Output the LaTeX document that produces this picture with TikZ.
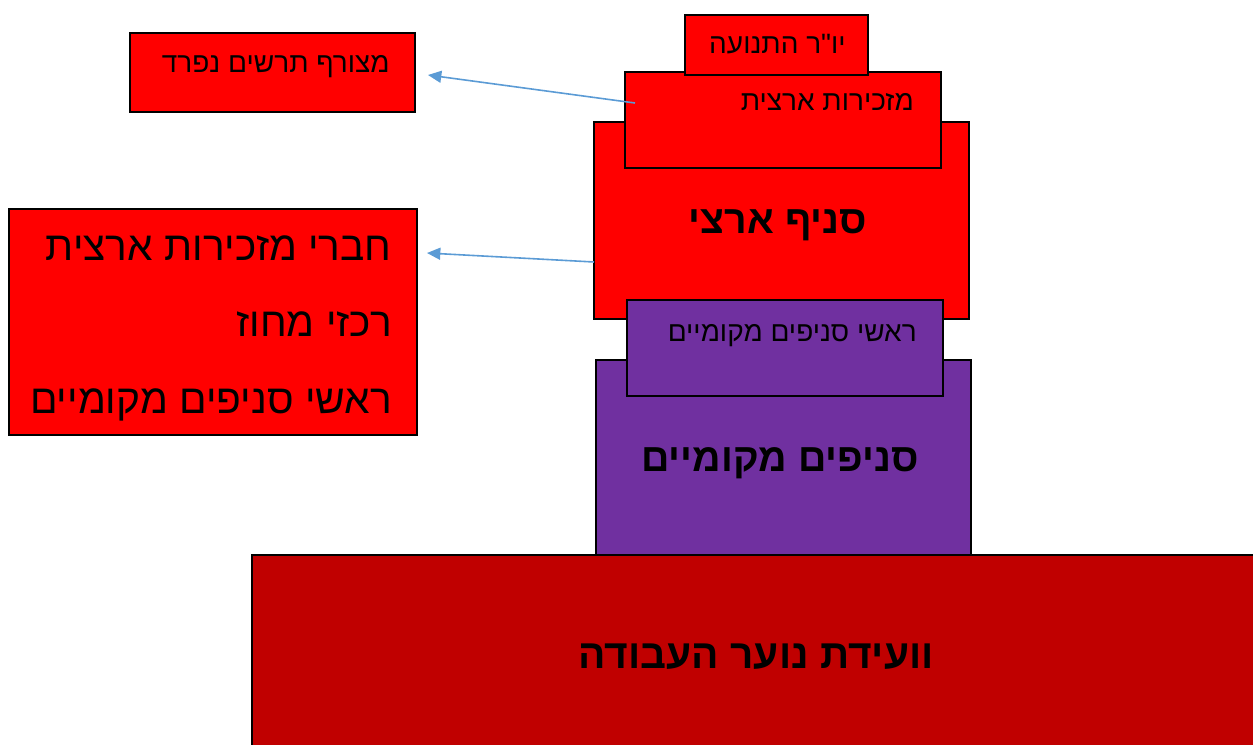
\documentclass[tikz,border=0pt]{standalone}
\usepackage{fontspec}
\setmainfont{Liberation Sans}
\newfontfamily\heb[Script=Hebrew]{Liberation Sans}
\TeXXeTstate=1
\usetikzlibrary{arrows.meta,fit}
\definecolor{cred}{HTML}{FF0000}
\definecolor{cdark}{HTML}{C00000}
\definecolor{cpurp}{HTML}{7030A0}
\definecolor{carrow}{HTML}{5B9BD5}
\tikzset{
  box/.style={draw=black, line width=0.8pt, inner sep=0pt},
  redbox/.style={box, fill=cred},
  purpbox/.style={box, fill=cpurp},
  darkbox/.style={box, fill=cdark},
  lbl/.style={inner sep=0pt, anchor=base east, font=\heb\fontsize{21}{24}\selectfont},
  biglbl/.style={inner sep=0pt, anchor=base east, font=\heb\fontsize{30.5}{34}\selectfont},
  boldlbl/.style={inner sep=0pt, anchor=base, font=\heb\bfseries\fontsize{29.5}{34}\selectfont},
  arr/.style={draw=carrow, line width=1.2pt, -{Triangle[length=10pt,width=9pt]}}
}
\begin{document}
\begin{tikzpicture}[x=0.75pt,y=-0.75pt]
\useasboundingbox (0,0) rectangle (1253,745);
% bottom
\node[darkbox, fit={(252,555) (1275,770)}] (veida) {};
\node[boldlbl, font=\heb\bfseries\fontsize{30.5}{34}\selectfont] (veidat) at (756,668) {\beginR וועידת נוער העבודה\endR};
% local branches
\node[purpbox, fit={(596,360) (971,555)}] (mekomi) {};
\node[boldlbl] (mekomit) at (780,471) {\beginR סניפים מקומיים\endR};
% national branch
\node[redbox, fit={(594,122) (969,319)}] (snif) {};
\node[boldlbl] (snift) at (778,234) {\beginR סניף ארצי\endR};
% heads of local branches
\node[purpbox, fit={(627,300) (943,396)}] (roshei) {};
\node[lbl] (rosheit) at (917,341) {\beginR ראשי סניפים מקומיים\endR};
% national secretariat
\node[redbox, fit={(625,72) (941,168)}] (mazk) {};
\node[lbl] (mazkt) at (914,111) {\beginR מזכירות ארצית\endR};
% chairman
\node[redbox, fit={(685,15) (868,75)}] (yor) {};
\node[lbl] (yort) at (846,54) {\beginR יו"ר התנועה\endR};
% attached chart
\node[redbox, fit={(130,33) (415,112)}] (mzr) {};
\node[lbl] (mzrt) at (390,73) {\beginR מצורף תרשים נפרד\endR};
% members box
\node[redbox, fit={(9,209) (417,435)}] (members) {};
\node[biglbl] (m1) at (392,261) {\beginR חברי מזכירות ארצית\endR};
\node[biglbl] (m2) at (392,336) {\beginR רכזי מחוז\endR};
\node[biglbl] (m3) at (392,413) {\beginR ראשי סניפים מקומיים\endR};
% arrows
\coordinate (a1s) at (635,103);
\coordinate (a1e) at (428,75);
\coordinate (a2s) at (594,262);
\coordinate (a2e) at (427,253);
\draw[arr] (a1s) -- (a1e);
\draw[arr] (a2s) -- (a2e);
\end{tikzpicture}
\end{document}
